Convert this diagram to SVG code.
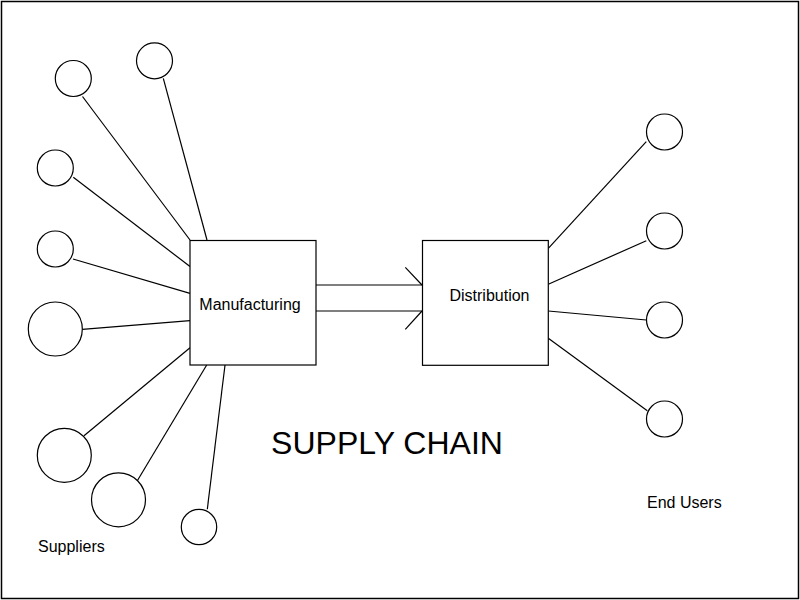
<svg xmlns="http://www.w3.org/2000/svg" width="800" height="600" viewBox="0 0 800 600">
<style>
.n{fill:#fff;stroke:#000;stroke-width:1.2}
.c line{stroke:#000;stroke-width:1.2}
text{font-family:"Liberation Sans",Arial,sans-serif;fill:#000}
.l{font-size:16px}
</style>
<rect x="0" y="0" width="800" height="600" fill="#fff"/>
<rect x="1.5" y="1.5" width="797" height="597" fill="none" stroke="#000" stroke-width="1.5"/>
<g id="connectors" class="c">
<line x1="82.5" y1="96.5" x2="190" y2="240"/>
<line x1="163.3" y1="78.3" x2="207" y2="240"/>
<line x1="73.3" y1="177.3" x2="190" y2="266.5"/>
<line x1="73" y1="259" x2="190" y2="293.3"/>
<line x1="82.3" y1="329.3" x2="190" y2="320.7"/>
<line x1="84" y1="435.7" x2="190" y2="347.7"/>
<line x1="136.7" y1="481.7" x2="206.7" y2="365"/>
<line x1="207.3" y1="509.3" x2="225" y2="365"/>
<line x1="316" y1="285" x2="422" y2="285"/>
<line x1="405.3" y1="267.3" x2="422" y2="285"/>
<line x1="316" y1="311" x2="422" y2="311"/>
<line x1="405.3" y1="329.3" x2="422" y2="311"/>
<line x1="548.3" y1="248.3" x2="646.3" y2="141.7"/>
<line x1="548.3" y1="284.3" x2="646.3" y2="240.7"/>
<line x1="548.3" y1="311" x2="646.3" y2="320"/>
<line x1="548.3" y1="338.3" x2="647.3" y2="410.7"/>
</g>
<g id="manufacturing"><rect class="n" x="190" y="240.5" width="126" height="124.5"/><text class="l" x="250" y="310" text-anchor="middle">Manufacturing</text></g>
<g id="distribution"><rect class="n" x="422.5" y="240.5" width="125.8" height="124.8"/><text class="l" x="489.5" y="301" text-anchor="middle">Distribution</text></g>
<g id="supplier1"><circle class="n" cx="73.3" cy="78.5" r="18"/></g>
<g id="supplier2"><circle class="n" cx="154.5" cy="60.8" r="18"/></g>
<g id="supplier3"><circle class="n" cx="55.3" cy="168" r="18"/></g>
<g id="supplier4"><circle class="n" cx="55.3" cy="249" r="18"/></g>
<g id="supplier5"><circle class="n" cx="55.3" cy="329" r="27"/></g>
<g id="supplier6"><circle class="n" cx="64.3" cy="455.3" r="27"/></g>
<g id="supplier7"><circle class="n" cx="118.5" cy="499.8" r="27"/></g>
<g id="supplier8"><circle class="n" cx="199" cy="527" r="17.7"/></g>
<g id="user1"><circle class="n" cx="664.5" cy="132" r="18"/></g>
<g id="user2"><circle class="n" cx="664.5" cy="231" r="18"/></g>
<g id="user3"><circle class="n" cx="664.5" cy="320" r="18"/></g>
<g id="user4"><circle class="n" cx="664.5" cy="419" r="18"/></g>
<text x="387" y="454" font-size="32" text-anchor="middle">SUPPLY CHAIN</text>
<text class="l" x="647" y="507.5">End Users</text>
<text class="l" x="38" y="551.5">Suppliers</text>
</svg>
